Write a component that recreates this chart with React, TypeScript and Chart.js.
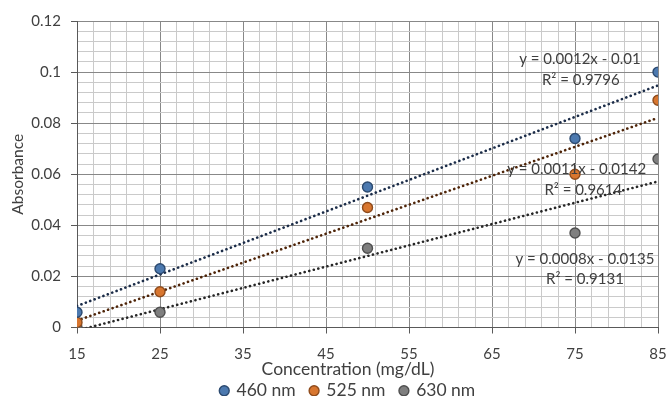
import React, { useEffect, useRef } from 'react';
import { Chart, registerables } from 'chart.js';

Chart.register(...registerables);

// ---- data ----
const concentrations = [15, 25, 50, 75, 85];
const abs460 = [0.006, 0.023, 0.055, 0.074, 0.1];
const abs525 = [0.002, 0.014, 0.047, 0.06, 0.089];
const abs630 = [0.0, 0.006, 0.031, 0.037, 0.066];
const seriesNames = ['460 nm', '525 nm', '630 nm'];

const equationLabels = ['y = 0.0012x - 0.01', 'y = 0.0011x - 0.0142', 'y = 0.0008x - 0.0135'];
const r2Labels = ['R\u00B2 = 0.9796', 'R\u00B2 = 0.9614', 'R\u00B2 = 0.9131'];
// label anchor positions (data coordinates)
const eqLabelX = [75.6, 75.2, 76.2];
const eqLabelY = [0.105, 0.0618, 0.0269];
const r2LabelX = [75.7, 76.0, 76.2];
const r2LabelY = [0.097, 0.0539, 0.019];

const xTitle = 'Concentration (mg/dL)';
const yTitle = 'Absorbance';
const xTickLabels = [15, 25, 35, 45, 55, 65, 75, 85];
const yTickLabels = [0, 0.02, 0.04, 0.06, 0.08, 0.1, 0.12];
const minorDivisions = 5;

const FONT = 'Lato, "Noto Sans", sans-serif';
const TEXT = '#404040';

function linReg(xs: number[], ys: number[]) {
  const n = xs.length;
  const mx = xs.reduce((a, b) => a + b, 0) / n;
  const my = ys.reduce((a, b) => a + b, 0) / n;
  let sxy = 0, sxx = 0;
  for (let i = 0; i < n; i++) {
    sxy += (xs[i] - mx) * (ys[i] - my);
    sxx += (xs[i] - mx) * (xs[i] - mx);
  }
  const m = sxy / sxx;
  return { m, b: my - m * mx };
}

function buildTicks(majors: number[]) {
  const ticks: { value: number; major: boolean }[] = [];
  for (let i = 0; i < majors.length; i++) {
    ticks.push({ value: majors[i], major: true });
    if (i < majors.length - 1) {
      const step = (majors[i + 1] - majors[i]) / minorDivisions;
      for (let k = 1; k < minorDivisions; k++) {
        ticks.push({ value: majors[i] + step * k, major: false });
      }
    }
  }
  return ticks;
}

const isMajor = (v: number, majors: number[]) => majors.some((m) => Math.abs(m - v) < 1e-9);

export default function App() {
  const ref = useRef<HTMLCanvasElement>(null);

  useEffect(() => {
    if (!ref.current) return;
    const series = [abs460, abs525, abs630];
    const fills = ['#4C79AF', '#D8762F', '#7F7F7F'];
    const borders = ['#2C4A70', '#8E4B1C', '#4F4F4F'];
    const trendColors = ['#1B2C48', '#4E2408', '#262626'];
    const xMin = xTickLabels[0];
    const xMax = xTickLabels[xTickLabels.length - 1];

    const scatterSets = series.map((ys, i) => ({
      type: 'scatter' as const,
      label: seriesNames[i],
      data: concentrations.map((x, j) => ({ x, y: ys[j] })),
      backgroundColor: fills[i],
      borderColor: borders[i],
      borderWidth: 1.4,
      pointRadius: 5,
      pointHoverRadius: 5,
      pointStyle: 'circle',
      order: 0,
    }));

    const trendSets = series.map((ys, i) => {
      const { m, b } = linReg(concentrations, ys);
      return {
        type: 'line' as const,
        label: 'trend ' + seriesNames[i],
        data: [
          { x: xMin, y: m * xMin + b },
          { x: xMax, y: m * xMax + b },
        ],
        borderColor: trendColors[i],
        backgroundColor: trendColors[i],
        borderWidth: 2.6,
        borderDash: [0.1, 4.6],
        borderCapStyle: 'round',
        pointRadius: 0,
        fill: false,
        order: 1,
      };
    });

    const labelPlugin = {
      id: 'trendLabels',
      afterLayout(chart: any) {
        // centre the legend under the same point as the x-axis title
        const lg = chart.legend;
        if (lg) {
          lg.left += 14;
          lg.right += 14;
        }
      },
      afterDatasetsDraw(chart: any) {
        const { ctx, scales, chartArea } = chart;
        ctx.save();
        ctx.font = `15px ${FONT}`;
        ctx.fillStyle = TEXT;
        ctx.textAlign = 'center';
        ctx.textBaseline = 'middle';
        for (let i = 0; i < equationLabels.length; i++) {
          ctx.fillText(equationLabels[i], scales.x.getPixelForValue(eqLabelX[i]), scales.y.getPixelForValue(eqLabelY[i]));
          ctx.fillText(r2Labels[i], scales.x.getPixelForValue(r2LabelX[i]), scales.y.getPixelForValue(r2LabelY[i]));
        }
        // x-axis title (centred slightly left of the plot centre, as in the source)
        ctx.font = `17.5px ${FONT}`;
        ctx.fillText(xTitle, chart.width / 2 + 14, chartArea.bottom + 42);
        ctx.restore();
      },
    };

    const majorGrid = '#888888';
    const minorGrid = '#CACACA';

    const chart = new Chart(ref.current, {
      type: 'scatter',
      data: { datasets: [...scatterSets, ...trendSets] as any },
      plugins: [labelPlugin],
      options: {
        animation: false,
        responsive: false,
        devicePixelRatio: 1,
        layout: { padding: { top: 21, left: 0, right: 0, bottom: -13.5 } },
        plugins: {
          tooltip: { enabled: false },
          legend: {
            position: 'bottom',
            labels: {
              filter: (item: any) => item.datasetIndex < 3,
              usePointStyle: true,
              pointStyle: 'circle',
              boxWidth: 7,
              boxHeight: 7,
              padding: 15,
              color: TEXT,
              font: { family: FONT, size: 17.5 },
            },
          },
        },
        scales: {
          x: {
            type: 'linear',
            min: xMin,
            max: xMax,
            afterBuildTicks: (scale: any) => {
              scale.ticks = buildTicks(xTickLabels);
            },
            afterFit: (scale: any) => {
              scale.height = 39.5;
              scale.paddingRight = 10;
            },
            ticks: {
              autoSkip: false,
              maxRotation: 0,
              padding: 12,
              color: TEXT,
              font: { family: FONT, size: 15 },
              callback: (v: any) => (isMajor(Number(v), xTickLabels) ? String(Math.round(Number(v))) : ''),
            },
            grid: {
              color: (c: any) => (c.tick && isMajor(c.tick.value, xTickLabels) ? majorGrid : minorGrid),
              tickColor: (c: any) => (c.tick && isMajor(c.tick.value, xTickLabels) ? '#595959' : 'rgba(0,0,0,0)'),
              tickLength: 6,
              lineWidth: 1,
            },
            border: { color: '#595959', width: 1 },
            title: { display: false },
          },
          y: {
            type: 'linear',
            min: yTickLabels[0],
            max: yTickLabels[yTickLabels.length - 1],
            afterBuildTicks: (scale: any) => {
              scale.ticks = buildTicks(yTickLabels);
            },
            afterFit: (scale: any) => {
              scale.width = 77;
            },
            ticks: {
              autoSkip: false,
              padding: 10,
              color: TEXT,
              font: { family: FONT, size: 15 },
              callback: (v: any) => (isMajor(Number(v), yTickLabels) ? String(Number(Number(v).toFixed(3))) : ''),
            },
            grid: {
              color: (c: any) => (c.tick && isMajor(c.tick.value, yTickLabels) ? majorGrid : minorGrid),
              tickColor: (c: any) => (c.tick && isMajor(c.tick.value, yTickLabels) ? '#595959' : 'rgba(0,0,0,0)'),
              tickLength: 6,
              lineWidth: 1,
            },
            border: { color: '#595959', width: 1 },
            title: {
              display: true,
              text: yTitle,
              color: TEXT,
              font: { family: FONT, size: 15.5 },
              padding: { top: 9, bottom: 0 },
            },
          },
        },
      } as any,
    });
    return () => chart.destroy();
  }, []);

  return (
    <div style={{ position: 'fixed', left: 0, top: 0, width: 668, height: 396, background: '#fff' }}>
      <canvas ref={ref} width={668} height={396} style={{ width: 668, height: 396, display: 'block' }} />
    </div>
  );
}
